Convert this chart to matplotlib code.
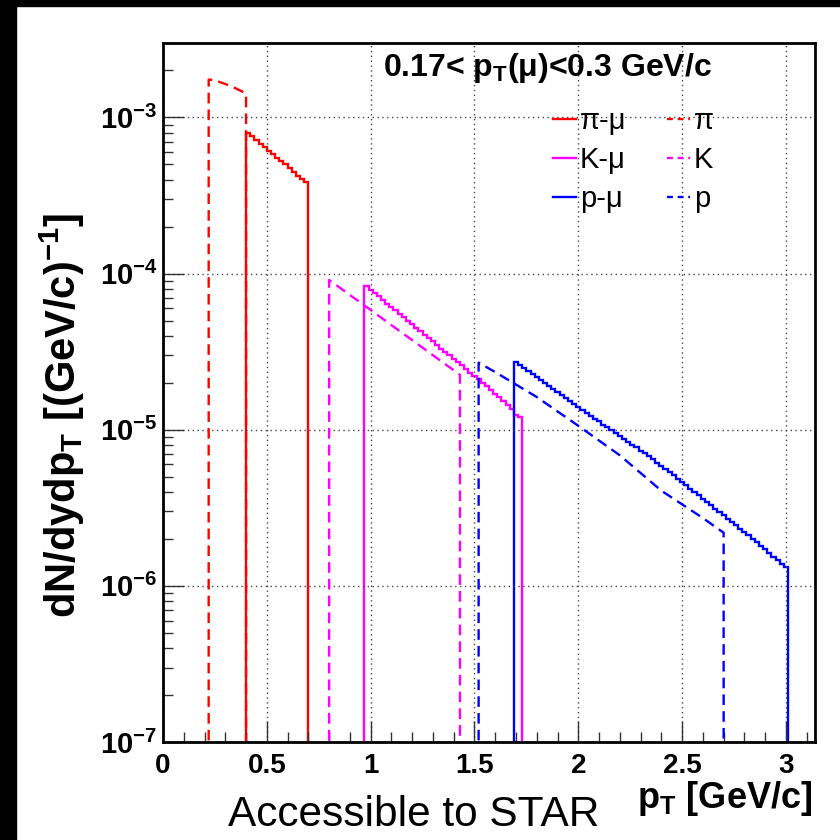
import numpy as np
import matplotlib
matplotlib.use("Agg")
import matplotlib.pyplot as plt
from matplotlib.patches import Rectangle
from matplotlib.lines import Line2D
from matplotlib.ticker import MultipleLocator, LogLocator, NullFormatter

plt.rcParams['font.family'] = ['Liberation Sans', 'DejaVu Sans']
plt.rcParams['mathtext.fontset'] = 'custom'
plt.rcParams['mathtext.rm'] = 'Liberation Sans'
plt.rcParams['mathtext.bf'] = 'Liberation Sans:bold'
plt.rcParams['mathtext.it'] = 'Liberation Sans:italic'

# ---- data ----
bin_w = 0.02

# solid histograms (mu from decay), start edge + bin contents
pimu_start = 0.40
pimu_vals = [7.9, 7.6, 7.2, 6.8, 6.5, 6.1, 5.8, 5.5, 5.25, 5.0, 4.75, 4.5, 4.25, 4.05, 3.85]  # x1e-4

kmu_start = 0.97
kmu_vals = [8.3, 7.9, 7.5, 7.15, 6.8, 6.4, 6.1, 5.85, 5.5, 5.25,
            5.0, 4.75, 4.5, 4.3, 4.05, 3.85, 3.7, 3.5, 3.3, 3.15,
            3.0, 2.85, 2.7, 2.58, 2.45, 2.32, 2.2, 2.1, 2.0, 1.9,
            1.8, 1.7, 1.62, 1.53, 1.45, 1.35, 1.25, 1.2]  # x1e-5

pmu_start = 1.69
pmu_vals = [2.72, 2.6, 2.5, 2.38, 2.27, 2.17, 2.08, 1.98, 1.9, 1.82,
            1.74, 1.66, 1.59, 1.52, 1.46, 1.4, 1.34, 1.28, 1.23, 1.18,
            1.13, 1.08, 1.04, 0.99, 0.95, 0.915, 0.875, 0.84, 0.80, 0.77,
            0.735, 0.705, 0.675, 0.645, 0.615, 0.59, 0.56, 0.535, 0.51, 0.485,
            0.462, 0.44, 0.42, 0.40, 0.38, 0.362, 0.345, 0.328, 0.312, 0.297,
            0.283, 0.27, 0.257, 0.245, 0.233, 0.222, 0.211, 0.2, 0.19, 0.18,
            0.171, 0.162, 0.154, 0.146, 0.139, 0.132]  # x1e-5

# dashed curves (parent particles)
pi_pt = [0.22, 0.24, 0.26, 0.30, 0.34, 0.38, 0.40]
pi_val = [1.75e-3, 1.74e-3, 1.71e-3, 1.64e-3, 1.56e-3, 1.47e-3, 1.42e-3]

k_pt = [0.80, 0.90, 1.00, 1.10, 1.20, 1.30, 1.43]
k_val = [9.1e-5, 7.3e-5, 5.85e-5, 4.68e-5, 3.75e-5, 3.0e-5, 2.25e-5]

p_pt = [1.52, 1.60, 1.80, 2.00, 2.20, 2.40, 2.60, 2.70]
p_val = [2.69e-5, 2.34e-5, 1.62e-5, 1.06e-5, 6.86e-6, 4.07e-6, 2.72e-6, 2.19e-6]

xticks = [0, 0.5, 1, 1.5, 2, 2.5, 3]
xticklabels = ['0', '0.5', '1', '1.5', '2', '2.5', '3']
yticks = [1e-7, 1e-6, 1e-5, 1e-4, 1e-3]
yticklabels = [r'$\mathbf{10^{-7}}$', r'$\mathbf{10^{-6}}$', r'$\mathbf{10^{-5}}$',
               r'$\mathbf{10^{-4}}$', r'$\mathbf{10^{-3}}$']

RED, MAG, BLUE = '#ff0000', '#ff00ff', '#0000ff'
floor = 1e-9


def edges(start, n):
    return start + bin_w * np.arange(n + 1)


fig = plt.figure(figsize=(8.4, 8.4), dpi=100)
fig.patches.append(Rectangle((0, 0), 16 / 840, 1, transform=fig.transFigure,
                             color='black', zorder=-1))
fig.patches.append(Rectangle((0, 1 - 6 / 840), 1, 6 / 840, transform=fig.transFigure,
                             color='black', zorder=-1))

ax = fig.add_axes([163 / 840, 98 / 840, 652 / 840, 699 / 840])
ax.set_yscale('log')
ax.set_xlim(0, 3.14)
ax.set_ylim(1e-7, 3e-3)

lw = 1.7
dash = (4.5, 2.6)

# solid histograms
ax.stairs(np.array(pimu_vals) * 1e-4, edges(pimu_start, len(pimu_vals)),
          baseline=floor, color=RED, lw=lw)
ax.stairs(np.array(kmu_vals) * 1e-5, edges(kmu_start, len(kmu_vals)),
          baseline=floor, color=MAG, lw=lw)
ax.stairs(np.array(pmu_vals) * 1e-5, edges(pmu_start, len(pmu_vals)),
          baseline=floor, color=BLUE, lw=lw)

# dashed parents
for xs, ys, c in [(pi_pt, pi_val, RED), (k_pt, k_val, MAG), (p_pt, p_val, BLUE)]:
    xx = [xs[0]] + list(xs) + [xs[-1]]
    yy = [floor] + list(ys) + [floor]
    ax.plot(xx, yy, color=c, lw=lw, dashes=dash)

# grid + ticks
ax.set_xticks(xticks)
ax.set_xticklabels(xticklabels, fontsize=20, fontweight='bold')
ax.xaxis.set_minor_locator(MultipleLocator(0.1))
ax.set_yticks(yticks)
ax.set_yticklabels(yticklabels, fontsize=21)
ax.yaxis.set_minor_locator(LogLocator(base=10, subs=np.arange(2, 10)))
ax.yaxis.set_minor_formatter(NullFormatter())
ax.grid(True, which='major', color='#444444', lw=1.0, linestyle=(0, (1, 2.5)))
ax.tick_params(which='major', direction='in', length=15, width=1.0, color='#333333')
ax.tick_params(which='minor', direction='in', length=7, width=1.0, color='#333333')
ax.tick_params(axis='x', which='major', pad=8)
ax.tick_params(axis='y', which='major', pad=4)
for s in ax.spines.values():
    s.set_linewidth(2.0)

# title text
ax.text(0.59, 0.964, r'0.17< p$_\mathbf{T}$(μ)<0.3 GeV/c', transform=ax.transAxes,
        fontsize=23, fontweight='bold', ha='center', va='center')

# legend
h = [Line2D([], [], color=RED, lw=lw), Line2D([], [], color=MAG, lw=lw),
     Line2D([], [], color=BLUE, lw=lw),
     Line2D([], [], color=RED, lw=lw, dashes=(2.5, 2)),
     Line2D([], [], color=MAG, lw=lw, dashes=(2.5, 2)),
     Line2D([], [], color=BLUE, lw=lw, dashes=(2.5, 2))]
labels = ['π-μ', 'K-μ', 'p-μ', 'π', 'K', 'p']
ax.legend(h, labels, ncol=2, loc='upper left', bbox_to_anchor=(0.598, 0.908),
          frameon=False, fontsize=21, handlelength=0.8, handletextpad=0.12,
          columnspacing=1.4, labelspacing=0.38, borderaxespad=0, borderpad=0)

# axis titles
fig.text(62 / 840, 0.505, r'dN/dydp$_\mathbf{T}$ [(GeV/c)$^\mathbf{-1}$]',
         rotation=90, fontsize=30, fontweight='bold', ha='center', va='center')
fig.text(812 / 840, 32 / 840, r'p$_\mathbf{T}$ [GeV/c]', fontsize=26,
         fontweight='bold', ha='right', va='baseline')
fig.text(228 / 840, 14 / 840, 'Accessible to STAR', fontsize=30.5,
         ha='left', va='baseline')

fig.savefig('out.png', dpi=100, facecolor='white')
